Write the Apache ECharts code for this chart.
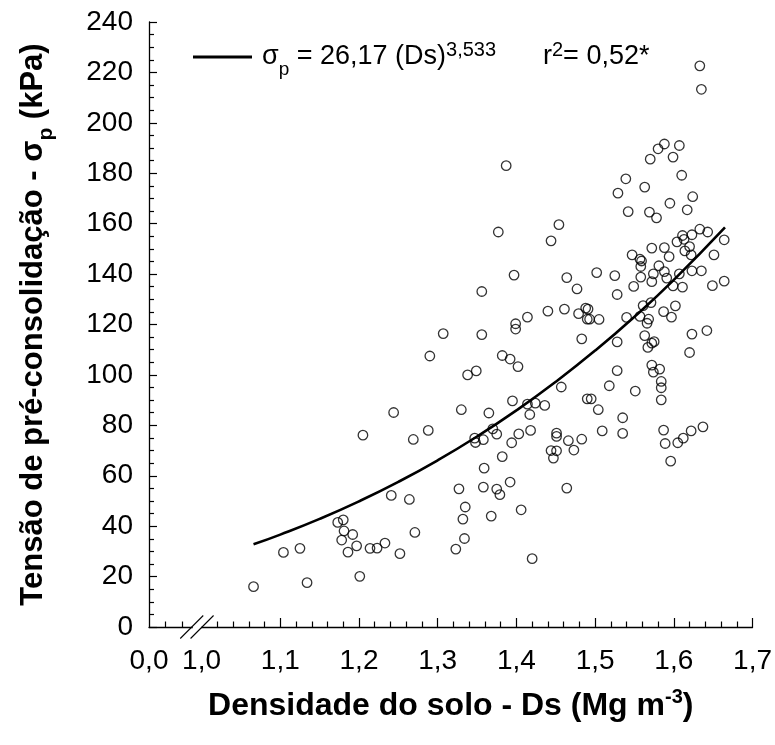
<!DOCTYPE html>
<html><head><meta charset="utf-8">
<script src="https://cdn.jsdelivr.net/npm/echarts@6/dist/echarts.min.js"></script>
<style>html,body{margin:0;padding:0;background:#fff}#c{width:775px;height:745px}</style>
</head><body><div id="c"></div>
<script>
// Observed points: soil bulk density (Ds, Mg m-3) and preconsolidation pressure (kPa)
const ds = [
1.066,1.104,1.125,1.134,1.205,1.173,1.180,1.181,1.192,1.178,1.186,1.197,1.201,1.214,1.223,1.233,1.252,1.241,1.264,1.271,1.269,1.288,1.327,1.335,1.332,1.334,1.323,1.347,1.348,
1.377,1.397,1.356,1.307,1.356,1.399,1.399,1.290,1.382,1.392,1.402,1.338,1.349,1.244,1.330,1.365,1.395,
1.457,1.518,1.551,1.584,1.584,1.584,1.414,1.424,1.436,1.417,1.490,1.495,1.504,1.535,1.370,1.358,1.375,1.403,1.418,1.394,1.382,1.359,1.358,1.375,1.379,1.392,1.368,1.406,1.420,1.451,1.451,1.444,1.451,1.447,1.466,1.473,1.483,1.464,1.509,1.535,1.587,1.589,1.596,1.605,1.612,1.622,1.637,
1.387,1.539,1.610,1.563,1.529,1.624,1.595,1.542,1.569,1.578,1.617,1.454,1.444,1.633,1.643,1.623,1.611,1.604,1.613,1.664,1.572,1.588,1.594,1.620,1.614,1.622,1.651,1.547,1.557,1.559,1.558,1.581,1.588,1.574,1.591,1.572,1.607,1.623,1.635,1.599,1.611,1.649,1.664,1.549,1.558,1.525,1.502,1.464,1.477,1.528,
1.414,1.440,1.461,1.488,1.491,1.479,1.490,1.493,1.505,1.561,1.571,1.540,1.557,1.568,1.566,1.587,1.602,1.597,1.623,1.642,1.620,1.563,1.575,1.572,1.567,1.528,1.483,1.528,1.572,1.582,1.574,
1.633,1.635,1.588,1.580,1.607,1.570,1.599
];
const sigma = [
16.0,29.6,31.2,17.6,76.1,41.5,42.5,38.1,36.7,34.5,29.7,32.2,20.1,31.2,31.3,33.3,29.1,52.2,50.6,37.5,74.4,78.0,54.8,47.6,42.8,35.1,30.9,74.9,73.2,
156.7,139.6,133.1,116.4,116.0,120.3,118.2,107.5,107.7,106.3,103.3,100.0,101.6,85.1,86.2,84.9,89.7,
95.2,95.7,93.6,97.4,94.9,90.1,88.4,88.8,87.9,84.3,90.5,90.5,86.2,83.0,78.6,74.3,76.5,76.6,78.0,73.1,67.6,63.0,55.5,54.7,52.5,57.5,44.0,46.5,27.1,76.9,75.6,70.0,69.9,67.0,73.9,70.2,74.5,55.1,77.8,76.8,78.1,72.8,65.8,73.1,74.9,77.8,79.4,
183.0,177.8,179.2,174.5,172.1,170.7,168.1,164.8,164.6,162.3,165.5,159.6,153.2,157.8,156.7,155.6,155.3,152.8,153.8,153.6,150.3,150.5,146.9,150.9,149.2,147.6,147.6,147.6,145.9,145.2,143.0,143.3,141.0,140.1,138.4,137.0,140.1,141.3,141.3,135.3,134.8,135.4,137.2,135.1,138.8,139.4,140.6,138.6,134.1,131.9,
122.9,125.3,126.1,126.5,126.1,124.3,122.1,122.1,122.0,127.5,128.7,122.8,123.2,122.1,120.5,125.1,127.4,122.9,116.2,117.6,108.9,115.6,113.2,112.6,110.9,113.1,114.3,101.7,103.9,102.3,101.1,
222.6,213.3,191.6,189.7,191.0,185.6,186.4
];
// Fitted curve sigma_p = 26,17 (Ds)^3,533
const fitDs    = [1.066, 1.10, 1.15, 1.20, 1.25, 1.30, 1.35, 1.40, 1.45, 1.50, 1.55, 1.60, 1.665];
const fitSigma = [32.80, 36.65, 42.88, 49.84, 57.57, 66.12, 75.56, 85.92, 97.26, 109.64, 123.10, 137.71, 158.53];
// X tick labels (broken axis: 0,0 then 1,0 ... 1,7)
const xLabelValues = [0.9332, 1.0, 1.1, 1.2, 1.3, 1.4, 1.5, 1.6, 1.7];
const xLabelTexts  = ['0,0', '1,0', '1,1', '1,2', '1,3', '1,4', '1,5', '1,6', '1,7'];
const yMin = 0, yMax = 240, yStep = 20;

const FONT = 'Liberation Sans, Arial, sans-serif';
const X_MIN = 0.9332, X_MAX = 1.7;

// minor tick positions on x (every 0.02 after the break, two before it)
const minorX = [0.9542, 0.9752];
for (let i = 51; i < 85; i++) { if (i % 5 !== 0) minorX.push(+(i * 0.02).toFixed(2)); }
const majorX = [1.1, 1.2, 1.3, 1.4, 1.5, 1.6, 1.7];

const chart = echarts.init(document.getElementById('c'), null, {renderer: 'canvas'});
const pts = ds.map((d, i) => [d, sigma[i]]);
const fit = fitDs.map((d, i) => [d, fitSigma[i]]);

const axisLineStyle = {color: '#000', width: 1.3};
chart.setOption({
  animation: false,
  backgroundColor: '#fff',
  grid: {left: 149, right: 22, top: 22, bottom: 118, containLabel: false},
  xAxis: [{
    type: 'value', min: X_MIN, max: X_MAX,
    axisLine: {show: true, lineStyle: axisLineStyle, onZero: false},
    axisTick: {show: true, inside: true, length: 5.5, lineStyle: {color: '#000', width: 1.2}, customValues: minorX},
    axisLabel: {
      show: true, customValues: xLabelValues, margin: 20,
      fontFamily: FONT, fontSize: 28, color: '#000',
      formatter: function (v) {
        let best = 0;
        for (let i = 1; i < xLabelValues.length; i++) if (Math.abs(xLabelValues[i] - v) < Math.abs(xLabelValues[best] - v)) best = i;
        return xLabelTexts[best];
      }
    },
    splitLine: {show: false},
    name: '{b|Densidade do solo - Ds (Mg m}{sup|-3}{b|)}',
    nameLocation: 'middle', nameGap: 60,
    nameTextStyle: {
      rich: {
        b: {fontFamily: FONT, fontWeight: 'bold', fontSize: 32, color: '#000', lineHeight: 38},
        sup: {fontFamily: FONT, fontWeight: 'bold', fontSize: 20, color: '#000', verticalAlign: 'top', lineHeight: 22}
      }
    }
  }, {
    type: 'value', min: X_MIN, max: X_MAX, position: 'bottom',
    axisLine: {show: false},
    axisTick: {show: true, inside: true, length: 9, lineStyle: {color: '#000', width: 1.2}, customValues: majorX},
    axisLabel: {show: false},
    splitLine: {show: false}
  }],
  yAxis: {
    type: 'value', min: yMin, max: yMax, interval: yStep,
    axisLine: {show: true, lineStyle: axisLineStyle, onZero: false},
    axisTick: {show: true, inside: true, length: 8, lineStyle: {color: '#000', width: 1.2}},
    minorTick: {show: true, splitNumber: 4, length: 5, lineStyle: {color: '#000', width: 1.2}},
    axisLabel: {fontFamily: FONT, fontSize: 28, color: '#000', margin: 16},
    splitLine: {show: false},
    name: '{b|Tensão de pré-consolidação - σ}{sub|p}{b| (kPa)}',
    nameLocation: 'middle', nameRotate: 90, nameGap: 98,
    nameTextStyle: {
      rich: {
        b: {fontFamily: FONT, fontWeight: 'bold', fontSize: 31, color: '#000', lineHeight: 36},
        sub: {fontFamily: FONT, fontWeight: 'bold', fontSize: 21, color: '#000', verticalAlign: 'bottom', lineHeight: 24, padding: [0, 0, -6, 0]}
      }
    }
  },
  series: [{
    type: 'scatter', data: pts, symbol: 'circle', symbolSize: 9.5,
    itemStyle: {color: 'rgba(0,0,0,0)', borderColor: '#000', borderWidth: 1.3},
    emphasis: {disabled: true}, z: 3
  }, {
    type: 'line', data: fit, smooth: true, showSymbol: false,
    lineStyle: {color: '#000', width: 2.6}, emphasis: {disabled: true}, z: 2
  }]
});

// Axis break marks and legend
const p1 = chart.convertToPixel({xAxisIndex: 0, yAxisIndex: 0}, [0.9875, 0]);
const p2 = chart.convertToPixel({xAxisIndex: 0, yAxisIndex: 0}, [1.0006, 0]);
const h = 11.5;
chart.setOption({
  graphic: [
    {type: 'rect', shape: {x: p1[0] + 1, y: p1[1] - 3, width: p2[0] - p1[0] - 2, height: 6}, style: {fill: '#fff'}, z: 100},
    {type: 'line', shape: {x1: p1[0] - h, y1: p1[1] + h, x2: p1[0] + h, y2: p1[1] - h}, style: {stroke: '#000', lineWidth: 1.1}, z: 101},
    {type: 'line', shape: {x1: p2[0] - h, y1: p2[1] + h, x2: p2[0] + h, y2: p2[1] - h}, style: {stroke: '#000', lineWidth: 1.1}, z: 101},
    {type: 'line', shape: {x1: 193, y1: 57, x2: 252, y2: 57}, style: {stroke: '#000', lineWidth: 2.8}, z: 101},
    {type: 'text', x: 262, y: 57, z: 101, style: {
      text: '{n|σ}{sub|p}{n| = 26,17 (Ds)}{sup|3,533}', textVerticalAlign: 'middle', fill: '#000',
      rich: {
        n: {fontFamily: FONT, fontSize: 27, lineHeight: 34, fill: '#000'},
        sub: {fontFamily: FONT, fontSize: 19, lineHeight: 20, verticalAlign: 'bottom', padding: [0, 0, -5, 0], fill: '#000'},
        sup: {fontFamily: FONT, fontSize: 20, lineHeight: 20, verticalAlign: 'top', padding: [0, 0, 2, 0], fill: '#000'}
      }
    }},
    {type: 'text', x: 543, y: 57, z: 101, style: {
      text: '{n|r}{sup|2}{n|= 0,52*}', textVerticalAlign: 'middle', fill: '#000',
      rich: {
        n: {fontFamily: FONT, fontSize: 27, lineHeight: 34, fill: '#000'},
        sup: {fontFamily: FONT, fontSize: 20, lineHeight: 20, verticalAlign: 'top', fill: '#000'}
      }
    }}
  ]
});
</script>
</body></html>
